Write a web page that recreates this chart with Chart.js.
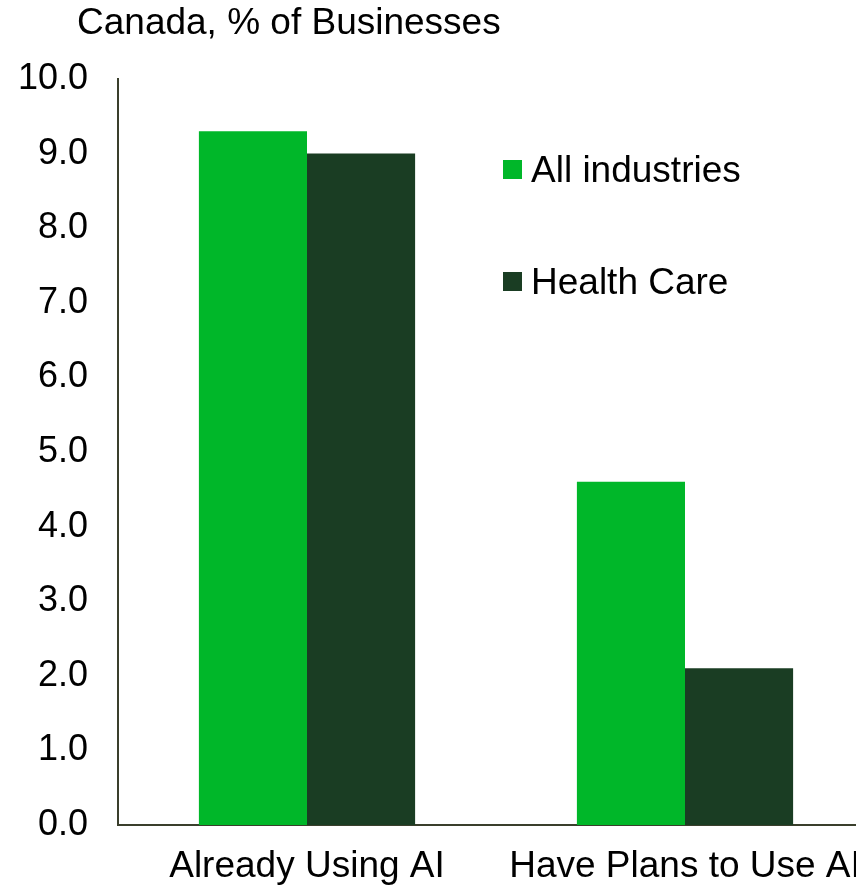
<!DOCTYPE html>
<html>
<head>
    <meta charset="utf-8">
    <title>AI use by Canadian businesses</title>
    <style>
        html, body {
            margin: 0;
            padding: 0;
            background: #ffffff;
            overflow: hidden;
            width: 856px;
            height: 888px;
        }
        #wrap {
            position: absolute;
            left: 0;
            top: 0;
            width: 880px;
            height: 888px;
        }
    </style>
</head>
<body>
    <div id="wrap"><canvas id="aiChart" width="880" height="888"></canvas></div>

    <script src="https://cdn.jsdelivr.net/npm/chart.js"></script>
    <script>
        const categories = ['Already Using AI', 'Have Plans to Use AI'];
        const allIndustries = [9.3, 4.6];
        const healthCare = [9.0, 2.1];
        const yTicks = [0, 1, 2, 3, 4, 5, 6, 7, 8, 9, 10];

        const FONT = 'Arial, "Liberation Sans", sans-serif';

        // unit label above the axis plus a stacked legend inside the plot
        const extras = {
            id: 'extras',
            afterDraw(chart) {
                const ctx = chart.ctx;
                const area = chart.chartArea;
                ctx.save();
                ctx.fillStyle = '#000';
                ctx.font = '37px ' + FONT;
                ctx.textBaseline = 'middle';
                ctx.textAlign = 'left';
                ctx.fillText('Canada, % of Businesses', area.left - 41, 24);

                const lx = 503, ly = [170, 282];
                chart.data.datasets.forEach((ds, i) => {
                    ctx.fillStyle = ds.backgroundColor;
                    ctx.fillRect(lx, ly[i] - 10, 19, 19);
                    ctx.fillStyle = '#000';
                    ctx.font = '37px ' + FONT;
                    ctx.fillText(ds.label, lx + 28, ly[i] + 2);
                });
                ctx.restore();
            }
        };

        new Chart(document.getElementById('aiChart'), {
            type: 'bar',
            data: {
                labels: categories,
                datasets: [
                    { label: 'All industries', data: allIndustries, backgroundColor: '#00B729' },
                    { label: 'Health Care', data: healthCare, backgroundColor: '#1A3D23' }
                ]
            },
            options: {
                responsive: false,
                animation: false,
                layout: { padding: { top: 79, right: 6, left: 0, bottom: 0 } },
                categoryPercentage: 0.572,
                barPercentage: 1.0,
                plugins: {
                    legend: { display: false },
                    tooltip: { enabled: false }
                },
                scales: {
                    x: {
                        grid: { display: false, drawTicks: false },
                        border: { display: true, color: '#3a3f2c', width: 2 },
                        ticks: {
                            color: '#000',
                            font: { family: FONT, size: 37 },
                            padding: 20,
                            maxRotation: 0,
                            autoSkip: false
                        },
                        afterFit(scale) {
                            // let the last label run past the edge instead of shrinking the plot
                            scale.height = 63;
                            scale.paddingLeft = 0;
                            scale.paddingRight = 0;
                        }
                    },
                    y: {
                        min: 0,
                        max: 10,
                        grid: { display: false, drawTicks: false },
                        border: { display: true, color: '#3a3f2c', width: 2 },
                        afterBuildTicks(scale) {
                            scale.ticks = yTicks.map(v => ({ value: v }));
                        },
                        ticks: {
                            color: '#000',
                            font: { family: FONT, size: 36 },
                            padding: 30,
                            callback: v => v.toFixed(1)
                        },
                        afterFit(scale) { scale.width = 118; }
                    }
                }
            },
            plugins: [extras]
        });
    </script>
</body>
</html>
